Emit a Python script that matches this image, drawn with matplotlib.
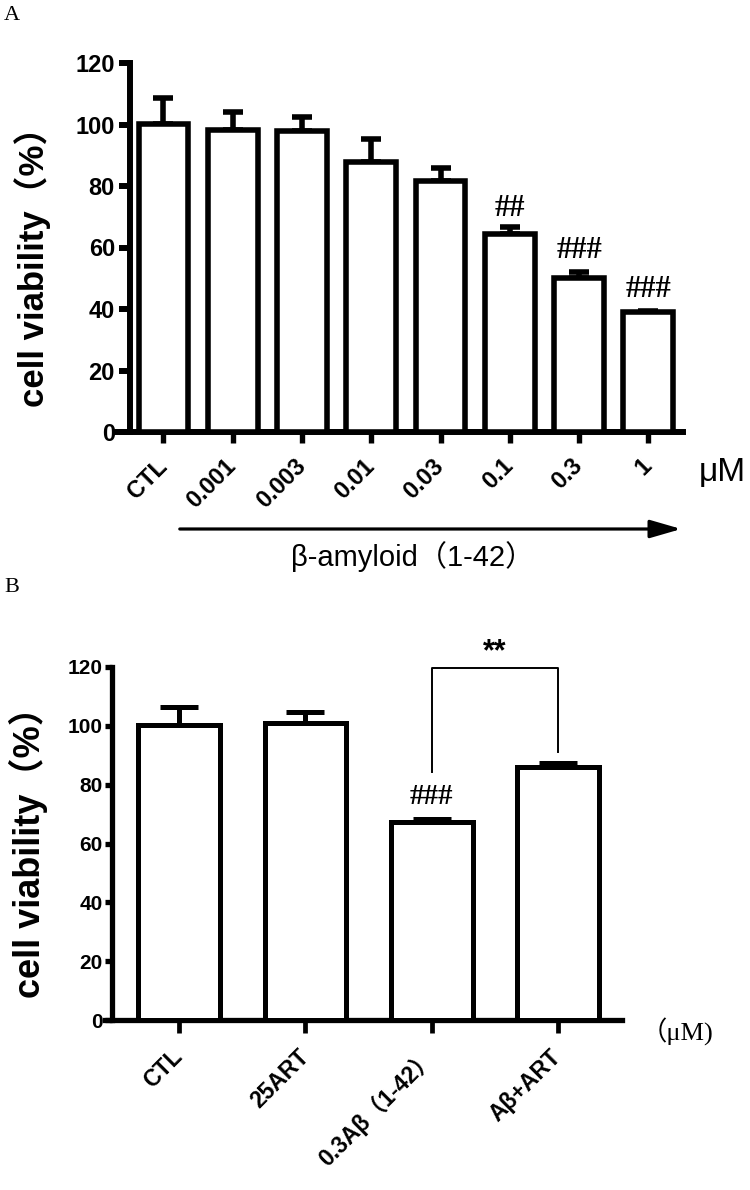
import numpy as np
import matplotlib
matplotlib.use('Agg')
import matplotlib.pyplot as plt
from matplotlib.patches import FancyArrowPatch

# panel A: beta-amyloid dose response
a_labels = ['CTL', '0.001', '0.003', '0.01', '0.03', '0.1', '0.3', '1']
a_values = [100.3, 98.3, 97.9, 87.7, 81.6, 64.5, 50.2, 39.0]
a_err = [8.2, 5.8, 4.6, 7.5, 4.4, 2.2, 1.7, 0.4]
a_marks = ['', '', '', '', '', '##', '###', '###']
a_mark_y = [0, 0, 0, 0, 0, 72.8, 58.9, 46.2]

# panel B: ART rescue
b_labels = ['CTL', '25ART', '0.3Aβ（1-42）', 'Aβ+ART']
b_values = [100.3, 100.8, 67.2, 85.9]
b_err = [6.1, 3.9, 1.1, 1.5]
b_marks = ['', '', '###', '']
b_mark_y = [0, 0, 76.0, 0]

SANS = ['Liberation Sans', 'Noto Sans CJK SC', 'DejaVu Sans']
SERIF = ['Liberation Serif', 'Noto Sans CJK SC', 'DejaVu Sans']

W, H = 750, 1190
fig = plt.figure(figsize=(W / 100, H / 100), dpi=100)


def fy(py):
    # figure fraction from pixel row
    return 1 - py / H


def style_axes(ax, lw, tick_fs, spine_x, ylen, ypad, xlen):
    for s in ['top', 'right']:
        ax.spines[s].set_visible(False)
    for s in ['left', 'bottom']:
        ax.spines[s].set_linewidth(lw)
        ax.spines[s].set_capstyle('projecting')
    ax.spines['left'].set_position(('data', spine_x))
    ax.tick_params(axis='y', length=ylen, width=lw, direction='out', pad=ypad)
    ax.tick_params(axis='x', length=xlen, width=lw * 0.9, direction='out')
    ax.set_ylim(0, 120)
    ax.set_yticks([0, 20, 40, 60, 80, 100, 120])
    for t in ax.get_yticklabels():
        t.set_fontfamily(SANS)
        t.set_fontweight('bold')
        t.set_fontsize(tick_fs)


# ---- panel A ----
axA = fig.add_axes([115 / W, fy(432), (683 - 115) / W, (432 - 63) / H])
xa = np.arange(len(a_values))
axA.bar(xa, a_values, width=0.72, color='white', edgecolor='black', linewidth=4, zorder=3)
axA.errorbar(xa, a_values, yerr=[np.zeros(len(a_err)), a_err], fmt='none', ecolor='black',
             elinewidth=4, capsize=7.5, capthick=4, zorder=2)
axA.set_xlim(-0.70, 7.5)
style_axes(axA, 4.3, 17, -0.48, 8, 3, 8)
axA.set_xticks(xa)
axA.set_xticklabels(a_labels, rotation=45, ha='right', va='center', rotation_mode='anchor',
                    fontsize=17, fontweight='bold', family=SANS)
axA.tick_params(axis='x', pad=14)
axA.set_ylabel('cell viability（%）', fontsize=25, fontweight='bold', family=SANS)
axA.yaxis.set_label_coords(-0.112, 0.47)
for i, m in enumerate(a_marks):
    if m:
        axA.text(xa[i], a_mark_y[i], m, ha='center', va='center',
                 fontsize=22, fontweight='bold', family=SERIF)

fig.text(722 / W, fy(473), 'μM', fontsize=24, family=SANS, ha='center', va='center')
fig.text(12 / W, fy(16), 'A', fontsize=16, family=SERIF, ha='center', va='center')
fig.add_artist(FancyArrowPatch(
    (177 / W, fy(529)), (684 / W, fy(529)), transform=fig.transFigure,
    arrowstyle='-|>,head_length=1.9,head_width=0.55', mutation_scale=10,
    linewidth=2.3, color='black'))
fig.text(413 / W, fy(557), 'β-amyloid（1-42）', fontsize=21, family=SANS,
         ha='center', va='center')

# ---- panel B ----
axB = fig.add_axes([105 / W, fy(1020), (622 - 105) / W, (1020 - 667) / H])
xb = np.arange(len(b_values))
axB.bar(xb, b_values, width=0.65, color='white', edgecolor='black', linewidth=3.6, zorder=3)
axB.errorbar(xb, b_values, yerr=[np.zeros(len(b_err)), b_err], fmt='none', ecolor='black',
             elinewidth=3.6, capsize=14, capthick=3.6, zorder=2)
axB.set_xlim(-0.59, 3.51)
style_axes(axB, 3.8, 15, -0.536, 5, 1.5, 9)
axB.set_xticks(xb)
axB.set_xticklabels(b_labels, rotation=45, ha='right', va='center', rotation_mode='anchor',
                    fontsize=16.5, fontweight='bold', family=SANS)
axB.tick_params(axis='x', pad=15)
axB.set_ylabel('cell viability（%）', fontsize=26, fontweight='bold', family=SANS)
axB.yaxis.set_label_coords(-0.11, 0.5)
for i, m in enumerate(b_marks):
    if m:
        axB.text(xb[i], b_mark_y[i], m, ha='center', va='center',
                 fontsize=21, fontweight='bold', family=SERIF)

# significance bracket between Abeta and Abeta+ART
axB.plot([2, 2, 3, 3], [84.3, 119.5, 119.5, 91.0], color='black', linewidth=1.4,
         clip_on=False, zorder=4)
axB.text(2.5, 125, '**', ha='center', va='center', fontsize=22, fontweight='bold',
         family=SANS)

fig.text(641 / W, fy(1032), '（μM)', fontsize=19, family=SERIF, ha='left', va='center')
fig.text(12 / W, fy(588), 'B', fontsize=16, family=SERIF, ha='center', va='center')

fig.savefig('out.png', dpi=100, facecolor='white')
